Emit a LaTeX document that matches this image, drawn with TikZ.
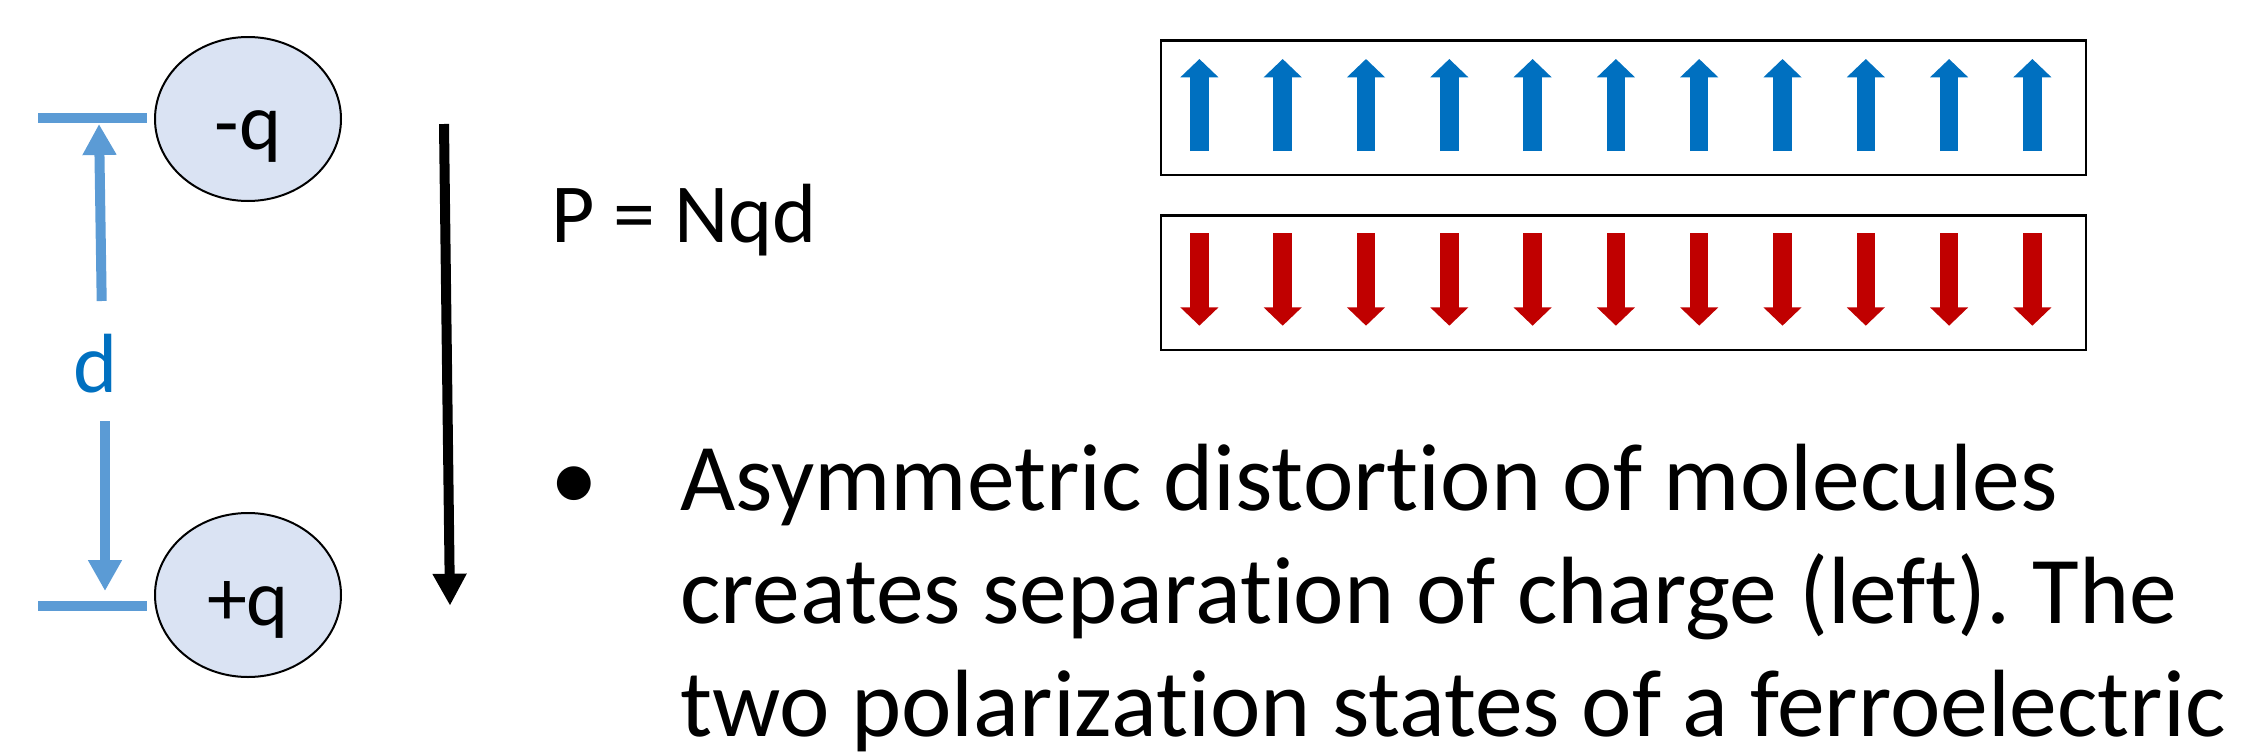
\documentclass[tikz,border=0pt]{standalone}
\usepackage{fontspec}
\setmainfont{Carlito}[Ligatures={NoCommon}]
\frenchspacing
\usetikzlibrary{arrows.meta,shapes.geometric}
\definecolor{chargefill}{HTML}{DAE3F3}
\definecolor{dimblue}{HTML}{5B9BD5}
\definecolor{upblue}{HTML}{0070C0}
\definecolor{downred}{HTML}{C00000}
\begin{document}
\begin{tikzpicture}[x=0.5pt,y=-0.5pt,
  charge/.style={ellipse, draw=black, line width=1pt, fill=chargefill,
    minimum width=93pt, minimum height=82pt, inner sep=0pt,
    text height=35pt, text depth=5pt, font=\fontsize{40pt}{48pt}\selectfont},
  bar/.style={draw=dimblue, line width=5pt},
  dimarrow/.style={draw=dimblue, line width=5pt, -{Triangle[width=16pt,length=15.5pt]}},
  polarrow/.style={draw=black, line width=5pt, -{Triangle[width=16pt,length=16pt]}},
  statebox/.style={draw=black, line width=1.4pt},
  uparr/.style={draw=upblue, line width=9.25pt, -{Triangle[width=18.5pt,length=9.15pt]}},
  downarr/.style={draw=downred, line width=9.25pt, -{Triangle[width=18.5pt,length=9.15pt]}},
  txt/.style={inner sep=0pt, outer sep=0pt},
  bodytxt/.style={txt, anchor=base west, font=\fontsize{47.8pt}{56.5pt}\selectfont},
]
\useasboundingbox (0,0) rectangle (2245,755);

% charges
\node[charge] (neg) at (248,119) {-q};
\node[charge] (pos) at (248,595) {+q};

% separation bars
\coordinate (topbarL) at (38,118);
\coordinate (topbarR) at (147,118);
\coordinate (botbarL) at (38,606);
\coordinate (botbarR) at (147,606);
\draw[bar] (topbarL) -- (topbarR);
\draw[bar] (botbarL) -- (botbarR);

% d label and dimension arrows
\node[txt, anchor=base, text=upblue, font=\fontsize{42pt}{50pt}\selectfont] (dlab) at (96,392) {d};
\coordinate (upstart) at (101.7,301);
\coordinate (uptip) at (99,124);
\coordinate (downstart) at (105,421);
\coordinate (downtip) at (105,591);
\draw[dimarrow] (upstart) -- (uptip);
\draw[dimarrow] (downstart) -- (downtip);

% polarization arrow
\coordinate (pstart) at (444,124);
\coordinate (ptip) at (450,605.7);
\draw[polarrow] (pstart) -- (ptip);

% formula
\node[txt, anchor=base west, font=\fontsize{42pt}{50pt}\selectfont] (formula) at (551,242) {P = Nqd};

% polarization state boxes
\draw[statebox] (1161,40.7) rectangle (2086,175);
\draw[statebox] (1161,215.5) rectangle (2086,350);
\foreach \i in {0,...,10} {
  \draw[uparr] ({1199.4+83.3*\i},151) -- ({1199.4+83.3*\i},59);
  \draw[downarr] ({1199.4+83.3*\i},233.3) -- ({1199.4+83.3*\i},325.7);
}

% bullet text
\node[txt, anchor=base, font=\fontsize{47.8pt}{56.5pt}\selectfont] (bullet) at (574.5,510) {•};
\node[bodytxt] (line1) at (680,510) {Asymmetric distortion of molecules};
\node[bodytxt] (line2) at (680,623) {creates separation of charge (left). The};
\node[bodytxt] (line3) at (680,736) {two polarization states of a ferroelectric};
\end{tikzpicture}
\end{document}
